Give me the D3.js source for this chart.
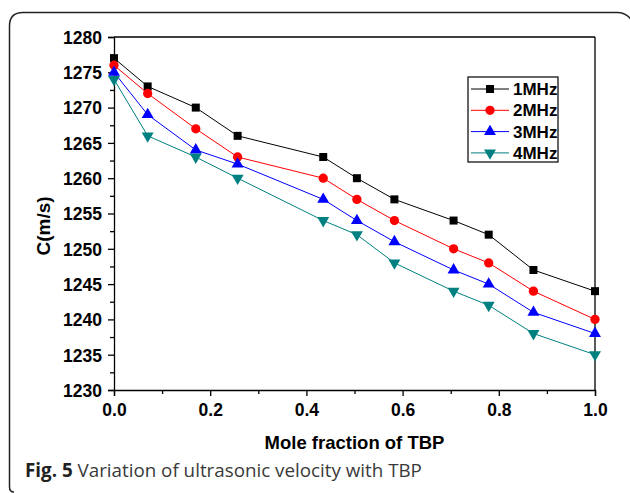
<!DOCTYPE html>
<html>
<head>
<meta charset="utf-8">
<script src="https://cdn.jsdelivr.net/npm/d3@7"></script>
<style>
  body { margin: 0; background: #fff; }
  svg { display: block; }
</style>
</head>
<body>
<div id="chart"></div>
<script>
// mole fraction of TBP
const moleFraction = [0, 0.07, 0.17, 0.257, 0.435, 0.505, 0.583, 0.706, 0.779, 0.872, 1.0];

const series = ["1MHz", "2MHz", "3MHz", "4MHz"];
const v1MHz = [1277, 1273, 1270, 1266, 1263, 1260, 1257, 1254, 1252, 1247, 1244];
const v2MHz = [1276, 1272, 1267, 1263, 1260, 1257, 1254, 1250, 1248, 1244, 1240];
const v3MHz = [1275, 1269, 1264, 1262, 1257, 1254, 1251, 1247, 1245, 1241, 1238];
const v4MHz = [1274, 1266, 1263, 1260, 1254, 1252, 1248, 1244, 1242, 1238, 1235];

const xTicks = [0, 0.2, 0.4, 0.6, 0.8, 1.0];
const yTicks = [1230, 1235, 1240, 1245, 1250, 1255, 1260, 1265, 1270, 1275, 1280];

const W = 630, H = 493;
const margin = {top: 37, right: 35, bottom: 103, left: 114};
const width = W - margin.left - margin.right,
  height = H - margin.top - margin.bottom;

const colors = ["#000000", "#ff0000", "#0000ff", "#008080"];
const symbols = [d3.symbolSquare, d3.symbolCircle, d3.symbolTriangle, d3.symbolTriangle];
const values = [v1MHz, v2MHz, v3MHz, v4MHz];

const svg0 = d3.select("#chart")
  .append("svg")
  .attr("width", W)
  .attr("height", H);

// outer frame of the figure
svg0.append("path")
  .attr("d", "M14,492 Q9.5,492 9.5,487 V26 Q9.5,12.5 23,12.5 H617 Q627,12.5 633,22")
  .attr("fill", "none")
  .attr("stroke", "#222")
  .attr("stroke-width", 1.5);

const svg = svg0.append("g")
  .attr("transform", `translate(${margin.left},${margin.top})`);

const x = d3.scaleLinear().domain([0, 1]).range([0, width]);
const y = d3.scaleLinear().domain([1230, 1280]).range([height, 0]);

const tickFont = "'Liberation Sans', Arial, sans-serif";

// X axis
const xAxis = svg.append("g")
  .attr("transform", `translate(0,${height})`)
  .call(d3.axisBottom(x).tickValues(xTicks).tickFormat(d3.format(".1f")).tickSize(6).tickPadding(8));
svg.append("g")
  .attr("transform", `translate(0,${height})`)
  .call(d3.axisBottom(x).tickValues([0.1, 0.3, 0.5, 0.7, 0.9]).tickFormat("").tickSize(4))
  .select(".domain").remove();

// Y axis
const yAxis = svg.append("g")
  .call(d3.axisLeft(y).tickValues(yTicks).tickFormat(d3.format("d")).tickSize(6).tickPadding(6));
svg.append("g")
  .call(d3.axisLeft(y).tickValues(d3.range(1232.5, 1280, 5)).tickFormat("").tickSize(4))
  .select(".domain").remove();

svg.selectAll(".tick line").attr("stroke", "#000").attr("stroke-width", 1.3);
svg.selectAll(".domain").attr("stroke", "#000").attr("stroke-width", 1.3);
svg.selectAll(".tick text")
  .attr("fill", "#000")
  .style("font-family", tickFont)
  .style("font-size", "17.5px")
  .style("font-weight", "bold");
yAxis.selectAll(".tick text").attr("dy", "0.36em");

// top and right frame
svg.append("line")
  .attr("x1", 0).attr("x2", width).attr("y1", 0).attr("y2", 0)
  .attr("stroke", "#000").attr("stroke-width", 1.3);
svg.append("line")
  .attr("x1", width).attr("x2", width).attr("y1", 0).attr("y2", height)
  .attr("stroke", "#000").attr("stroke-width", 1.3);

// axis titles
svg.append("text")
  .attr("x", width / 2)
  .attr("y", height + 59)
  .attr("text-anchor", "middle")
  .style("font-family", tickFont)
  .style("font-size", "18.5px")
  .style("font-weight", "bold")
  .text("Mole fraction of TBP");

svg.append("text")
  .attr("transform", `translate(${-64},${226 - margin.top}) rotate(-90)`)
  .attr("text-anchor", "middle")
  .style("font-family", tickFont)
  .style("font-size", "19px")
  .style("font-weight", "bold")
  .text("C(m/s)");

// lines and markers
const line = d3.line()
  .x((d, i) => x(moleFraction[i]))
  .y(d => y(d));

function marker(i) {
  const size = i === 0 ? 64 : i === 1 ? 68 : 62;
  return d3.symbol().type(symbols[i]).size(size)();
}

series.forEach((name, i) => {
  svg.append("path")
    .datum(values[i])
    .attr("fill", "none")
    .attr("stroke", colors[i])
    .attr("stroke-width", 1)
    .attr("d", line);

  svg.selectAll(".m" + i)
    .data(values[i])
    .join("path")
      .attr("class", "m" + i)
      .attr("transform", (d, j) =>
        `translate(${x(moleFraction[j])},${y(d)})` + (i === 3 ? " rotate(180)" : ""))
      .attr("fill", colors[i])
      .attr("d", marker(i));
});

// legend
const legend = svg0.append("g").attr("transform", "translate(468,77)");
legend.append("rect")
  .attr("width", 90).attr("height", 85)
  .attr("fill", "#fff")
  .attr("stroke", "#000").attr("stroke-width", 1.2);

series.forEach((name, i) => {
  const ly = 12 + i * 21.3;
  legend.append("line")
    .attr("x1", 3).attr("x2", 41).attr("y1", ly).attr("y2", ly)
    .attr("stroke", colors[i]).attr("stroke-width", 1);
  legend.append("path")
    .attr("transform", `translate(22,${ly})` + (i === 3 ? " rotate(180)" : ""))
    .attr("fill", colors[i])
    .attr("d", marker(i));
  legend.append("text")
    .attr("x", 45)
    .attr("y", ly)
    .attr("dy", "0.36em")
    .style("font-family", tickFont)
    .style("font-size", "17px")
    .style("font-weight", "bold")
    .text(name);
});

// caption
const caption = svg0.append("text")
  .attr("x", 25)
  .attr("y", 477)
  .style("font-family", "'Open Sans', 'Noto Sans', sans-serif")
  .style("font-size", "18.8px")
  .attr("fill", "#3a3a3a");
caption.append("tspan").style("font-weight", "bold").attr("fill", "#222").text("Fig. 5");
caption.append("tspan").text(" Variation of ultrasonic velocity with TBP");
</script>
</body>
</html>
